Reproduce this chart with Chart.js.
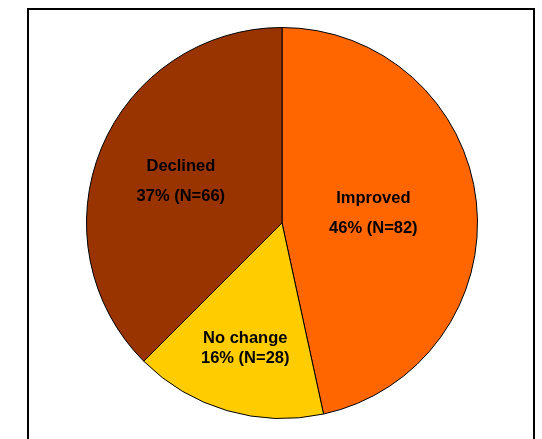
<!DOCTYPE html>
<html>

<head>
    <meta charset="utf-8">
    <script src="https://cdn.jsdelivr.net/npm/chart.js"></script>
    <title>Change</title>
    <style>
        body { margin: 0; background: #fff; }
        #frame { position: absolute; left: 27px; top: 8px; width: 504px; height: 460px; border: 2px solid #000; }
        #wrap { position: absolute; left: 0; top: 0; width: 542px; height: 439px; }
    </style>
</head>

<body>
    <div id="frame"></div>
    <div id="wrap"><canvas id="pie-chart" width="542" height="439"></canvas></div>
    <script>
        const labels = ['Improved', 'No change', 'Declined'];
        const counts = [82, 28, 66];
        const percents = ['46%', '16%', '37%'];
        const colors = ['#FF6600', '#FFCC00', '#993300'];

        // label placement along each slice's middle angle (fraction of radius, line gap)
        const labelPlace = [
            { r: 0.47, gap: 30 },
            { r: 0.667, gap: 20 },
            { r: 0.56, gap: 30 }
        ];

        const sliceLabels = {
            id: 'sliceLabels',
            afterDatasetsDraw(chart) {
                const ctx = chart.ctx;
                const meta = chart.getDatasetMeta(0);
                ctx.save();
                ctx.font = 'bold 16.5px "Liberation Sans", Arial, sans-serif';
                ctx.fillStyle = '#000';
                ctx.textAlign = 'center';
                ctx.textBaseline = 'middle';
                meta.data.forEach((arc, i) => {
                    const p = arc.getProps(['x', 'y', 'startAngle', 'endAngle', 'outerRadius'], true);
                    const mid = (p.startAngle + p.endAngle) / 2;
                    const d = p.outerRadius * labelPlace[i].r;
                    const cx = p.x + Math.cos(mid) * d;
                    const cy = p.y + Math.sin(mid) * d;
                    const g = labelPlace[i].gap / 2;
                    ctx.fillText(labels[i], cx, cy - g);
                    ctx.fillText(percents[i] + ' (N=' + counts[i] + ')', cx, cy + g);
                });
                ctx.restore();
            }
        };

        new Chart(document.getElementById('pie-chart'), {
            type: 'pie',
            data: {
                labels: labels,
                datasets: [{
                    data: counts,
                    backgroundColor: colors,
                    borderColor: '#000',
                    borderWidth: 1,
                    hoverOffset: 0
                }]
            },
            options: {
                responsive: false,
                animation: false,
                layout: { padding: { left: 86, right: 64, top: 27, bottom: 20 } },
                plugins: {
                    legend: { display: false },
                    tooltip: { enabled: false }
                }
            },
            plugins: [sliceLabels]
        });
    </script>
</body>

</html>
